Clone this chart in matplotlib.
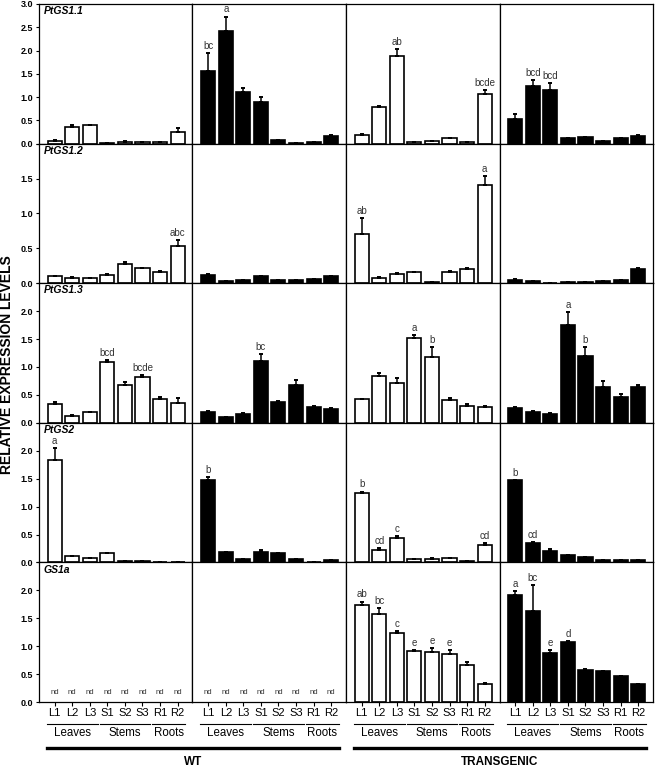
import numpy as np
import matplotlib
matplotlib.use("Agg")
import matplotlib.pyplot as plt
from matplotlib.lines import Line2D
from matplotlib.transforms import blended_transform_factory

plt.rcParams['font.family'] = ['Liberation Sans', 'DejaVu Sans']

tissues = ['L1', 'L2', 'L3', 'S1', 'S2', 'S3', 'R1', 'R2']
tissue_groups = [('Leaves', 0, 2), ('Stems', 3, 5), ('Roots', 6, 7)]
genes = ['PtGS1.1', 'PtGS1.2', 'PtGS1.3', 'PtGS2', 'GS1a']
y_tops = [3.0, 2.0, 2.5, 2.5, 2.5]
# columns: WT (white), WT (black), transgenic (white), transgenic (black)
fills = ['white', 'black', 'white', 'black']
lines = ['WT', 'TRANSGENIC']

nd = np.nan

gs11_mean = [[0.06, 0.36, 0.39, 0.02, 0.04, 0.03, 0.03, 0.26],
             [1.56, 2.43, 1.11, 0.89, 0.07, 0.01, 0.03, 0.17],
             [0.19, 0.78, 1.88, 0.04, 0.06, 0.13, 0.03, 1.06],
             [0.53, 1.24, 1.16, 0.12, 0.14, 0.06, 0.11, 0.17]]
gs11_err = [[0.01, 0.05, 0.02, 0.0, 0.01, 0.0, 0.0, 0.07],
            [0.38, 0.30, 0.08, 0.12, 0.01, 0.0, 0.01, 0.02],
            [0.01, 0.03, 0.16, 0.0, 0.0, 0.0, 0.0, 0.10],
            [0.11, 0.13, 0.14, 0.0, 0.01, 0.0, 0.01, 0.01]]
gs11_sig = [['', '', '', '', '', '', '', ''],
            ['bc', 'a', '', '', '', '', '', ''],
            ['', '', 'ab', '', '', '', '', 'bcde'],
            ['', 'bcd', 'bcd', '', '', '', '', '']]

gs12_mean = [[0.10, 0.08, 0.07, 0.12, 0.28, 0.22, 0.16, 0.53],
             [0.12, 0.03, 0.04, 0.10, 0.04, 0.04, 0.06, 0.10],
             [0.71, 0.08, 0.13, 0.16, 0.015, 0.16, 0.21, 1.41],
             [0.05, 0.03, 0.01, 0.02, 0.02, 0.03, 0.04, 0.21]]
gs12_err = [[0.01, 0.005, 0.005, 0.005, 0.03, 0.005, 0.01, 0.09],
            [0.005, 0.0, 0.0, 0.005, 0.0, 0.0, 0.0, 0.005],
            [0.22, 0.005, 0.01, 0.005, 0.0, 0.01, 0.01, 0.12],
            [0.005, 0.0, 0.0, 0.0, 0.0, 0.0, 0.0, 0.005]]
gs12_sig = [['', '', '', '', '', '', '', 'abc'],
            ['', '', '', '', '', '', '', ''],
            ['ab', '', '', '', '', '', '', 'a'],
            ['', '', '', '', '', '', '', '']]

gs13_mean = [[0.33, 0.13, 0.19, 1.09, 0.67, 0.82, 0.43, 0.35],
             [0.19, 0.10, 0.16, 1.10, 0.37, 0.67, 0.29, 0.25],
             [0.42, 0.84, 0.72, 1.51, 1.17, 0.41, 0.31, 0.28],
             [0.27, 0.20, 0.16, 1.76, 1.20, 0.65, 0.47, 0.64]]
gs13_err = [[0.05, 0.01, 0.01, 0.04, 0.06, 0.04, 0.03, 0.09],
            [0.02, 0.01, 0.01, 0.13, 0.02, 0.09, 0.02, 0.01],
            [0.0, 0.05, 0.09, 0.06, 0.18, 0.03, 0.03, 0.03],
            [0.01, 0.01, 0.01, 0.22, 0.15, 0.09, 0.05, 0.04]]
gs13_sig = [['', '', '', 'bcd', '', 'bcde', '', ''],
            ['', '', '', 'bc', '', '', '', ''],
            ['', '', '', 'a', 'b', '', '', ''],
            ['', '', '', 'a', 'b', '', '', '']]

gs2_mean = [[1.84, 0.11, 0.08, 0.17, 0.03, 0.03, 0.01, 0.01],
            [1.48, 0.18, 0.06, 0.19, 0.16, 0.06, 0.0, 0.04],
            [1.25, 0.23, 0.44, 0.06, 0.07, 0.08, 0.02, 0.31],
            [1.47, 0.35, 0.20, 0.13, 0.10, 0.05, 0.04, 0.04]]
gs2_err = [[0.21, 0.01, 0.005, 0.005, 0.0, 0.0, 0.0, 0.0],
           [0.05, 0.01, 0.005, 0.04, 0.01, 0.005, 0.0, 0.005],
           [0.02, 0.03, 0.04, 0.005, 0.005, 0.005, 0.0, 0.04],
           [0.01, 0.01, 0.04, 0.005, 0.005, 0.0, 0.0, 0.0]]
gs2_sig = [['a', '', '', '', '', '', '', ''],
           ['b', '', '', '', '', '', '', ''],
           ['b', 'cd', 'c', '', '', '', '', 'cd'],
           ['b', 'cd', '', '', '', '', '', '']]

gs1a_mean = [[nd, nd, nd, nd, nd, nd, nd, nd],
             [nd, nd, nd, nd, nd, nd, nd, nd],
             [1.74, 1.57, 1.24, 0.92, 0.89, 0.86, 0.67, 0.33],
             [1.92, 1.63, 0.88, 1.08, 0.58, 0.55, 0.46, 0.32]]
gs1a_err = [[0, 0, 0, 0, 0, 0, 0, 0],
            [0, 0, 0, 0, 0, 0, 0, 0],
            [0.06, 0.11, 0.03, 0.01, 0.07, 0.07, 0.04, 0.01],
            [0.07, 0.47, 0.05, 0.02, 0.005, 0.005, 0.005, 0.005]]
gs1a_sig = [['', '', '', '', '', '', '', ''],
            ['', '', '', '', '', '', '', ''],
            ['ab', 'bc', 'c', 'e', 'e', 'e', '', ''],
            ['a', 'bc', 'e', 'd', '', '', '', '']]

means = [gs11_mean, gs12_mean, gs13_mean, gs2_mean, gs1a_mean]
errs = [gs11_err, gs12_err, gs13_err, gs2_err, gs1a_err]
sigs = [gs11_sig, gs12_sig, gs13_sig, gs2_sig, gs1a_sig]

fig, axes = plt.subplots(5, 4, figsize=(6.55, 7.68), dpi=100)
fig.subplots_adjust(left=0.0595, right=0.997, top=0.9948, bottom=0.0859,
                    hspace=0, wspace=0)

x = np.arange(len(tissues))
for r in range(5):
    for c in range(4):
        ax = axes[r, c]
        vals = np.array(means[r][c], dtype=float)
        err = np.array(errs[r][c], dtype=float)
        ok = ~np.isnan(vals)
        ax.bar(x[ok], vals[ok], width=0.8, color=fills[c], edgecolor='black',
               linewidth=1.2, zorder=2)
        ax.errorbar(x[ok], vals[ok], yerr=[np.zeros(ok.sum()), err[ok]],
                    fmt='none', ecolor='black', elinewidth=1.1, capsize=1.5,
                    capthick=1.4, zorder=3)
        for i in range(len(tissues)):
            if not ok[i]:
                ax.text(x[i], 0.1, 'nd', ha='center', va='bottom',
                        fontsize=5.5, color='#333333')
            elif sigs[r][c][i]:
                ax.annotate(sigs[r][c][i], (x[i], vals[i] + err[i]),
                            xytext=(0, 1.5), textcoords='offset points',
                            ha='center', va='bottom', fontsize=7,
                            color='#333333')
        ax.set_xlim(-0.9, 7.85)
        ax.set_ylim(0, y_tops[r])
        for s in ax.spines.values():
            s.set_linewidth(0.9)
        ticks = np.arange(0, y_tops[r] + 0.01, 0.5)
        if c == 0:
            labels = ['%.1f' % t for t in ticks]
            if r > 0:
                labels[-1] = ''
            ax.set_yticks(ticks)
            ax.set_yticklabels(labels, fontsize=6.5, fontweight='bold')
            ax.tick_params(axis='y', direction='out', length=2.5, width=0.8, pad=1.5)
            ax.text(0.03, 0.985, genes[r], transform=ax.transAxes, ha='left',
                    va='top', fontsize=7.5, fontweight='bold', style='italic')
        else:
            ax.set_yticks([])
        if r == 4:
            ax.set_xticks(x)
            ax.set_xticklabels(tissues, fontsize=8)
            ax.tick_params(axis='x', direction='out', length=3, width=0.8, pad=1.5)
            tr = blended_transform_factory(ax.transData, ax.transAxes)
            for name, a, b in tissue_groups:
                ax.add_line(Line2D([a - 0.45, b + 0.45], [-0.155, -0.155],
                                   transform=tr, color='black', lw=0.8,
                                   clip_on=False))
                ax.text((a + b) / 2, -0.22, name, transform=tr, ha='center',
                        va='center', fontsize=8.3)
        else:
            ax.set_xticks([])

fig.text(0.011, 0.525, 'RELATIVE EXPRESSION LEVELS', rotation=90, ha='center',
         va='center', fontsize=10, fontweight='bold')

# thick lines under WT and transgenic pairs
inv = fig.transFigure.inverted()
for k, name in enumerate(lines):
    a0 = axes[4, 2 * k]
    a1 = axes[4, 2 * k + 1]
    x0 = inv.transform(a0.transData.transform((-0.45, 0)))[0]
    x1 = inv.transform(a1.transData.transform((7.45, 0)))[0]
    ytop = a0.get_position().y0
    yl = ytop - 0.33 * a0.get_position().height
    fig.add_artist(Line2D([x0, x1], [yl, yl], transform=fig.transFigure,
                          color='black', lw=2.4))
    fig.text((x0 + x1) / 2, 1 - 762 / 768, name, ha='center', va='center',
             fontsize=8.5, fontweight='bold')

fig.savefig('out.png', dpi=100)
